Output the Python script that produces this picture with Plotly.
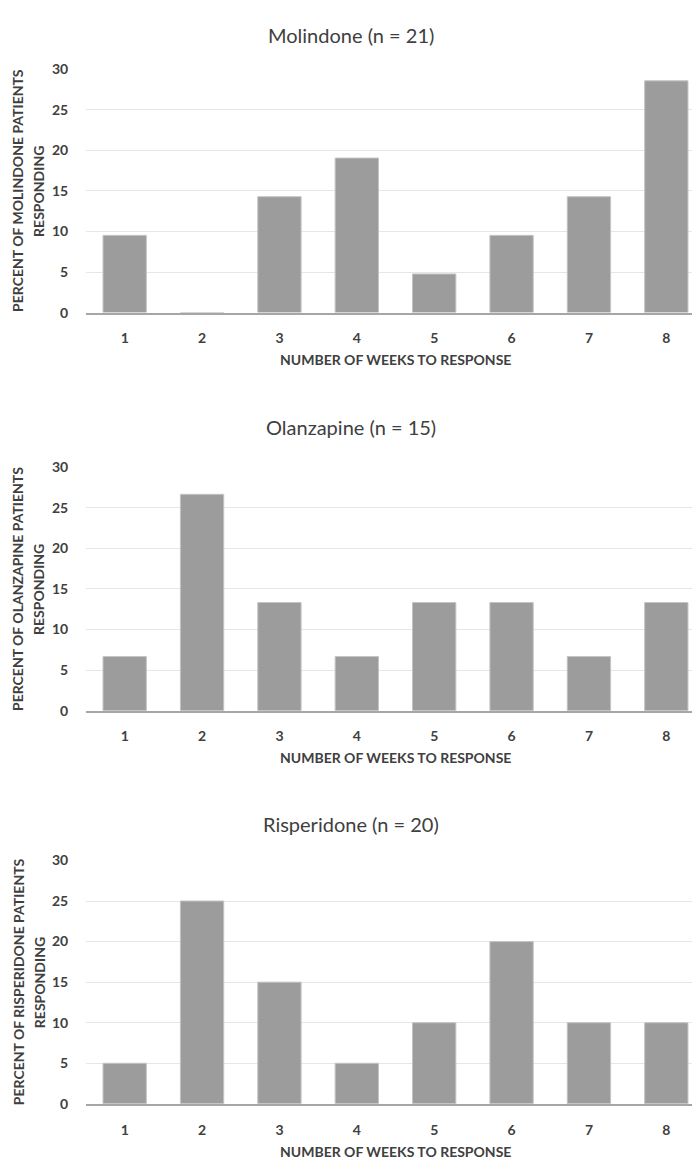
import plotly.graph_objects as go

weeks = ["1", "2", "3", "4", "5", "6", "7", "8"]
molindone = [9.52, 0, 14.29, 19.05, 4.76, 9.52, 14.29, 28.57]
olanzapine = [6.67, 26.67, 13.33, 6.67, 13.33, 13.33, 6.67, 13.33]
risperidone = [5, 25, 15, 5, 10, 20, 10, 10]

titles = ["Molindone (n = 21)", "Olanzapine (n = 15)", "Risperidone (n = 20)"]
ytitles_line1 = ["PERCENT OF MOLINDONE PATIENTS",
                 "PERCENT OF OLANZAPINE PATIENTS",
                 "PERCENT OF RISPERIDONE PATIENTS"]
ytitle_line2 = "RESPONDING"
xtitle = "NUMBER OF WEEKS TO RESPONSE"
yticks = [0, 5, 10, 15, 20, 25, 30]

W, H = 700, 1160
FONT = "Lato"
TXT = "#404040"

# pixel layout (top, bottom) of each plot area
panels = [(53, 300), (457, 704), (856, 1103)]
title_y = [18, 416, 819]
xleft, xright = 78, 697

def py(p):
    return 1 - p / H

def px(p):
    return p / W

fig = go.Figure()
series = [molindone, olanzapine, risperidone]
annotations = []
for i, (vals, (top, bot)) in enumerate(zip(series, panels)):
    n = "" if i == 0 else str(i + 1)
    fig.add_trace(go.Bar(
        x=weeks, y=vals, xaxis="x" + n, yaxis="y" + n,
        marker=dict(color="#9c9c9c", line=dict(color="#c4c4c4", width=1)),
        showlegend=False, hoverinfo="x+y",
    ))
    fig.layout["xaxis" + n] = dict(
        domain=[px(xleft), px(xright)], anchor="y" + n, type="category",
        showline=True, linecolor="#a6a6a6", linewidth=2,
        ticks="outside", ticklen=12, tickcolor="rgba(0,0,0,0)",
        tickfont=dict(family=FONT, size=14, color=TXT, weight="bold"),
        showgrid=False, zeroline=False, fixedrange=True,
    )
    fig.layout["yaxis" + n] = dict(
        domain=[py(bot), py(top)], anchor="x" + n, range=[0, 30],
        tickvals=yticks, showgrid=True, gridcolor="#e6e6e6", gridwidth=1,
        ticks="outside", ticklen=14, tickcolor="rgba(0,0,0,0)",
        tickfont=dict(family=FONT, size=14, color=TXT, weight="bold"),
        zeroline=False, showline=False, fixedrange=True,
    )
    annotations.append(dict(
        text=titles[i], x=px(343), y=py(title_y[i]), xref="paper", yref="paper",
        xanchor="center", yanchor="middle", showarrow=False,
        font=dict(family=FONT, size=20, color=TXT),
    ))
    annotations.append(dict(
        text=xtitle, x=px((xleft + xright) / 2), y=py(bot + 48), xref="paper", yref="paper",
        xanchor="center", yanchor="middle", showarrow=False,
        font=dict(family=FONT, size=14, color=TXT, weight="bold"),
    ))
    for txt, xc in ((ytitles_line1[i], 10), (ytitle_line2, 31)):
        annotations.append(dict(
            text=txt, x=px(xc), y=py((top + bot) / 2), xref="paper", yref="paper",
            xanchor="center", yanchor="middle", showarrow=False, textangle=-90,
            font=dict(family=FONT, size=14, color=TXT, weight="bold"),
        ))

fig.update_layout(
    width=W, height=H, margin=dict(l=0, r=0, t=0, b=0),
    paper_bgcolor="white", plot_bgcolor="white",
    bargap=0.44, annotations=annotations,
)

fig.write_html("out.html")
